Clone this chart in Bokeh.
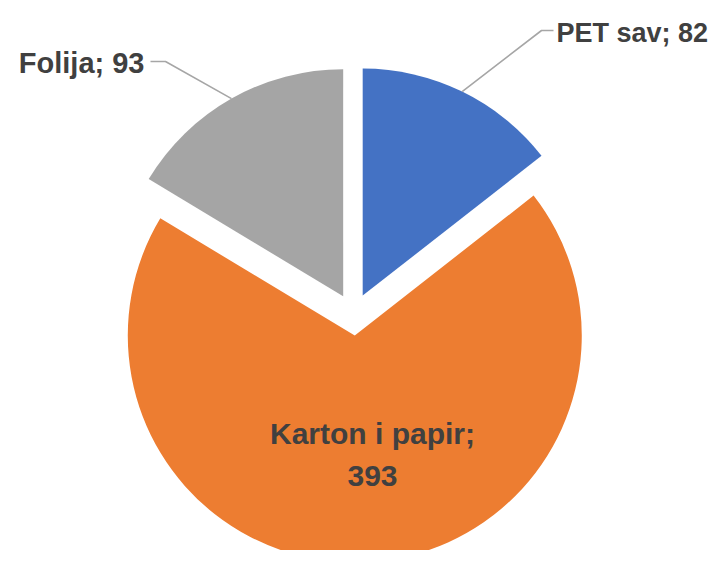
import numpy as np
from bokeh.plotting import figure
from bokeh.models import Range1d
from bokeh.core.properties import value
from bokeh.embed import file_html
from bokeh.resources import INLINE

# ---- data ----
categories = ["PET sav", "Karton i papir", "Folija"]
values = [82, 393, 93]
colors = ["#4472C4", "#ED7D31", "#A5A5A5"]

# ---- layout (pixel coordinates; y is negated so that up is positive) ----
W, H = 711, 550
p = figure(width=W, height=H,
           x_range=Range1d(0, W), y_range=Range1d(-H, 0),
           output_backend="svg", toolbar_location=None,
           x_axis_location=None, y_axis_location=None,
           min_border=0, outline_line_color=None, background_fill_color="white")
p.grid.visible = False

CX, CY = 353.0, -314.0
R = 227.0
EXPLODE = 21.0

vals = np.array(values, dtype=float)
frac = vals / vals.sum()
cum = np.concatenate([[0.0], np.cumsum(frac)])
start = 90.0 - cum[:-1] * 360.0
end = 90.0 - cum[1:] * 360.0
mid = (start + end) / 2.0
cx = CX + EXPLODE * np.cos(np.radians(mid))
cy = CY + EXPLODE * np.sin(np.radians(mid))

p.wedge(x=cx, y=cy, radius=R, start_angle=start, end_angle=end,
        start_angle_units="deg", end_angle_units="deg", direction="clock",
        fill_color=colors, line_color=None)

# leader lines (from arc midpoint of slice)
ax = cx + R * np.cos(np.radians(mid))
ay = cy + R * np.sin(np.radians(mid))
lead_color = "#A6A6A6"
p.line(x=[ax[0], 541, 553], y=[ay[0], -30, -30], line_color=lead_color, line_width=1.6)
p.line(x=[ax[2], 165, 150], y=[ay[2], -61, -61], line_color=lead_color, line_width=1.6)

font = value("Liberation Sans")
tcol = "#404040"

p.text(x=[556], y=[-32], text=[f"{categories[0]}; {values[0]}"],
       text_font=font, text_font_size=value("27px"), text_font_style="bold",
       text_color=tcol, text_align="left", text_baseline="alphabetic")
p.text(x=[144], y=[-62], text=[f"{categories[2]}; {values[2]}"],
       text_font=font, text_font_size=value("29px"), text_font_style="bold",
       text_color=tcol, text_align="right", text_baseline="alphabetic")
p.text(x=[372, 372], y=[-433, -475], text=[f"{categories[1]};", f"{values[1]}"],
       text_font=font, text_font_size=value("30px"), text_font_style="bold",
       text_color=tcol, text_align="center", text_baseline="alphabetic")

open("out.html", "w").write(file_html(p, INLINE))
